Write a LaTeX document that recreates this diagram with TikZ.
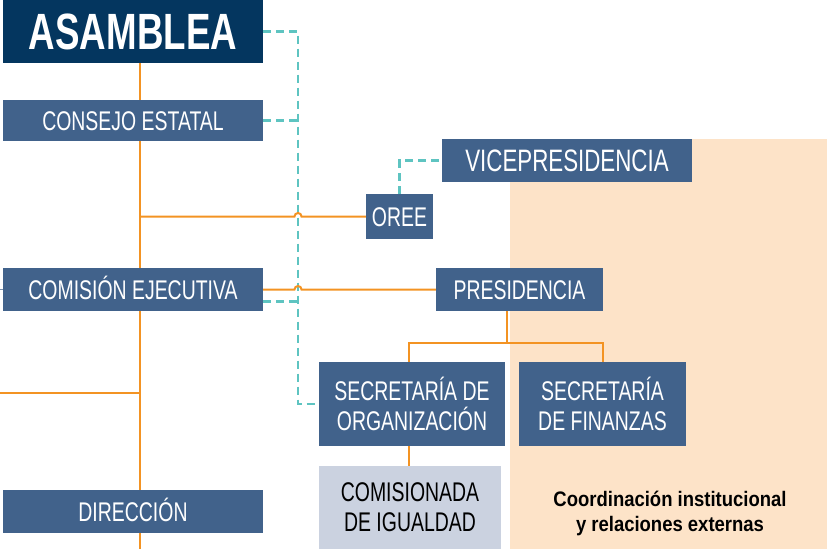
\documentclass[tikz,border=0pt]{standalone}
\usepackage{fontspec}
\newfontfamily\condfont[FakeStretch=0.72]{Liberation Sans}
\newfontfamily\coordfont[FakeStretch=0.88]{Liberation Sans}
\usepackage{tikz}
\usetikzlibrary{positioning,calc}
\definecolor{navy}{HTML}{04365F}
\definecolor{steel}{HTML}{41628B}
\definecolor{orgorange}{HTML}{F39323}
\definecolor{linkteal}{HTML}{5EC4C1}
\definecolor{paleblue}{HTML}{CBD2E0}
\definecolor{peach}{HTML}{FDE3C8}

\begin{document}
\begin{tikzpicture}[x=1pt,y=-1pt,
	unit/.style={fill=steel, text=white, inner sep=0pt, align=center, font=\condfont\fontsize{27}{30}\selectfont},
	oneline/.style={unit, text height=19pt, text depth=0pt},
	orgline/.style={draw=orgorange, line width=2pt},
	linkline/.style={draw=linkteal, line width=2.2pt, dash pattern=on 8pt off 5pt}]
				\useasboundingbox (0,0) rectangle (827,549);
				\fill[peach] (510,139) rectangle (827,549);
				\node[oneline, fill=navy, minimum width=260pt, minimum height=63pt, text height=36pt, font=\condfont\bfseries\fontsize{51}{51}\selectfont] (asamblea) at (133,31.5) {ASAMBLEA};
				\node[oneline, minimum width=260pt, minimum height=41pt] (consejo) at (133,120.5) {CONSEJO ESTATAL};
				\node[oneline, minimum width=260pt, minimum height=43pt] (comision) at (133,289.5) {COMISIÓN EJECUTIVA};
				\node[oneline, minimum width=260pt, minimum height=43pt] (direccion) at (133,511.5) {DIRECCIÓN};
				\node[oneline, minimum width=67pt, minimum height=45pt] (oree) at (399.5,216.5) {OREE};
				\node[oneline, minimum width=250pt, minimum height=43pt, font=\condfont\fontsize{31}{31}\selectfont, text height=21pt] (vice) at (567,160.5) {VICEPRESIDENCIA};
				\node[oneline, minimum width=167pt, minimum height=43pt] (presi) at (519.5,289.5) {PRESIDENCIA};
				\node[unit, minimum width=186pt, minimum height=84pt] (secorg) at (412,404) {SECRETARÍA DE\\ORGANIZACIÓN};
				\node[unit, minimum width=167pt, minimum height=84pt] (secfin) at (602.5,404) {SECRETARÍA\\DE FINANZAS};
				\node[unit, fill=paleblue, text=black, minimum width=182pt, minimum height=83pt] (comisionada) at (410,507.5) {COMISIONADA\\DE IGUALDAD};
				\node[align=center, font=\coordfont\bfseries\fontsize{21}{25}\selectfont] (coord) at (670,513) {Coordinación institucional\\y relaciones externas};
				\coordinate (margin) at (0,0);
				\coordinate (trunk) at (140,0);
				\coordinate (bottom) at (140,549);
				\coordinate (dashx) at (298,0);
				\coordinate (leftend) at (0,393);
				\coordinate (fork) at (507,343);
				\coordinate (orgdrop) at ([xshift=-3pt]secorg.south);
				\coordinate (comlink) at ([yshift=-12pt]comision.east);
				\draw[linkline] (asamblea.east) -| (dashx |- secorg.west) -- (secorg.west);
				\draw[linkline] (consejo.east) -- (consejo.east -| dashx);
				\draw[linkline] (comlink) -- (comlink -| dashx);
				\draw[linkline] (oree.north) |- (vice.west);
				\draw[orgline] (asamblea.south -| trunk) -- (consejo.north -| trunk);
				\draw[orgline] (consejo.south -| trunk) -- (comision.north -| trunk);
				\draw[orgline] (comision.south -| trunk) -- (direccion.north -| trunk);
				\draw[orgline] (direccion.south -| trunk) -- (bottom);
				\draw[orgline] (leftend) -- (leftend -| trunk);
				\draw[orgline] (oree.west -| trunk) -- ($(oree.west -| dashx)+(-3.5,0)$) arc[start angle=180, end angle=360, radius=3.5] -- (oree.west);
				\draw[orgline] (comision.east) -- ($(comision.east -| dashx)+(-3.5,0)$) arc[start angle=180, end angle=360, radius=3.5] -- (presi.west);
				\draw[orgline] (presi.south -| fork) -- (fork);
				\draw[orgline] ([xshift=-3pt]secorg.north) |- (fork) -| (secfin.north);
				\draw[orgline] (orgdrop) -- (orgdrop |- comisionada.north);
				\draw[steel!70, line width=1pt] (comision.west) -- (comision.west -| margin);
\end{tikzpicture}
\end{document}
